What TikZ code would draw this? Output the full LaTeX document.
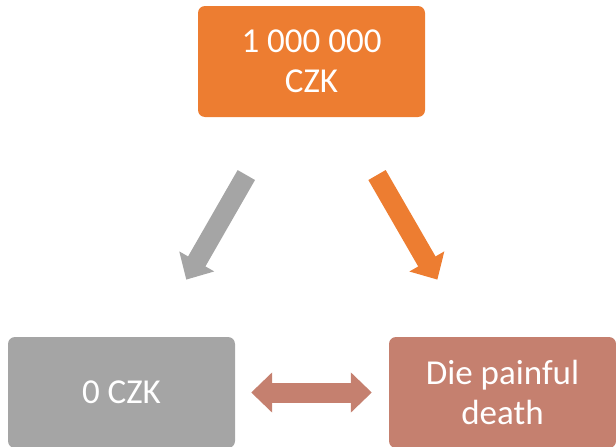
\documentclass[tikz,border=0pt]{standalone}
\usepackage{fontspec}
\setmainfont{Carlito}
\usetikzlibrary{arrows.meta,calc}
\definecolor{corange}{HTML}{ED7D31}
\definecolor{cgray}{HTML}{A5A5A5}
\definecolor{crose}{HTML}{C5806F}
\begin{document}
\begin{tikzpicture}[x=1pt,y=-1pt,
  boxnode/.style={rounded corners=7pt, minimum width=227pt, minimum height=111pt,
    inner sep=0pt, text=white, align=center,
    font=\fontsize{35}{40}\selectfont},
  blockarrow/.style={line width=20pt, line cap=butt,
    -{Triangle[width=39pt,length=21pt]}},
  dblarrow/.style={line width=20pt, line cap=butt,
    {Triangle[width=39pt,length=21pt]}-{Triangle[width=39pt,length=21pt]}}]
\useasboundingbox (0,0) rectangle (616,447);
\node[boxnode, fill=corange] (top) at (311.5,61.5) {1 000 000\\CZK};
\node[boxnode, fill=cgray] (left) at (121.5,392.5) {0 CZK};
\node[boxnode, fill=crose] (right) at (502.5,392.5) {Die painful\\death};
\draw[blockarrow, draw=cgray, fill=cgray]
  ($(top.center)!0.343!(left.center)$) -- ($(top.center)!0.659!(left.center)$);
\draw[blockarrow, draw=corange, fill=corange]
  ($(top.center)!0.343!(right.center)$) -- ($(top.center)!0.659!(right.center)$);
\draw[dblarrow, draw=crose, fill=crose, shorten <=16pt, shorten >=17pt]
  (left.east) -- (right.west);
\end{tikzpicture}
\end{document}
